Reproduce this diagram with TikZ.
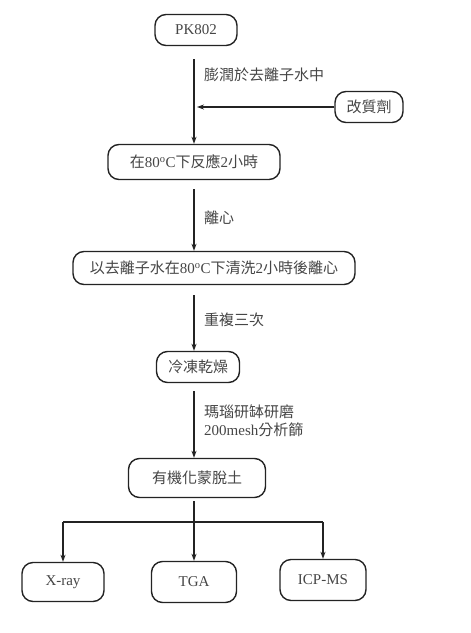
\documentclass[tikz,border=0pt]{standalone}
\usepackage{fontspec}
\setmainfont{Liberation Serif}
\newfontfamily\cjk{Noto Sans CJK TC}
\usetikzlibrary{arrows.meta,positioning,calc}
\usepackage{xcolor}
\definecolor{inkgrey}{RGB}{35,35,35}
\definecolor{textgrey}{RGB}{70,70,70}
\newcommand{\zh}[1]{{\cjk #1}}
\newcommand{\degC}{\textsuperscript{o}C}
\tikzset{
  stage/.style={draw=inkgrey,line width=1.4pt,rounded corners=11pt,fill=white,
                inner sep=2pt,text=textgrey,minimum height=31pt},
  flow/.style={-{Stealth[length=7pt,width=5pt]},draw=inkgrey,line width=1.1pt},
  wire/.style={draw=inkgrey,line width=1.1pt},
  note/.style={anchor=west,text=textgrey,align=left,inner sep=0pt},
}

\begin{document}
\begin{tikzpicture}[x=1pt,y=-1pt,font=\fontsize{15}{18}\selectfont]
  \useasboundingbox (0,0) rectangle (471,633);
  \coordinate (spine) at (194,0);
  % main line of the process
  \node[stage,minimum width=82pt] (pk) at (196,30) {PK802};
  \node[stage,minimum width=68pt] (modifier) at (369,107) {\zh{改質劑}};
  \node[stage,minimum width=172pt,minimum height=35pt] (react) at (194,162)
    {\zh{在}80\degC\zh{下反應}2\zh{小時}};
  \node[stage,minimum width=282pt,minimum height=33pt] (wash) at (214,268)
    {\zh{以去離子水在}80\degC\zh{下清洗}2\zh{小時後離心}};
  \node[stage,minimum width=83pt] (dry) at (198,367) {\zh{冷凍乾燥}};
  \node[stage,minimum width=137pt,minimum height=39pt] (organo) at (197,478)
    {\zh{有機化蒙脫土}};
  % analyses
  \node[stage,minimum width=82pt,minimum height=39pt] (xray) at (63,582) {X-ray};
  \node[stage,minimum width=85pt,minimum height=41pt] (tga) at (194,582) {TGA};
  \node[stage,minimum width=86pt,minimum height=41pt] (icp) at (323,580) {ICP-MS};
  % step notes
  \node[note] (n1) at (204,75) {\zh{膨潤於去離子水中}};
  \node[note] (n2) at (204,218) {\zh{離心}};
  \node[note] (n3) at (204,320) {\zh{重複三次}};
  \node[note] (n4) at (204,421) {\zh{瑪瑙研缽研磨}\\200mesh\zh{分析篩}};
  % arrows
  \draw[flow] ([yshift=-13pt]pk.south -| spine) -- (react.north -| spine);
  \draw[flow] (modifier.west) -- ([xshift=3pt]modifier.west -| spine);
  \draw[flow] ([yshift=-9pt]react.south -| spine) -- (wash.north -| spine);
  \draw[flow] ([yshift=-10pt]wash.south -| spine) -- (dry.north -| spine);
  \draw[flow] ([yshift=-8pt]dry.south -| spine) -- (organo.north -| spine);
  \coordinate (split) at (194,522);
  \draw[flow] ([yshift=-3pt]organo.south -| spine) -- (tga.north);
  \draw[wire] (xray.north |- split) -- (icp.north |- split);
  \draw[flow] (xray.north |- split) -- (xray.north);
  \draw[flow] (icp.north |- split) -- (icp.north);
\end{tikzpicture}
\end{document}
